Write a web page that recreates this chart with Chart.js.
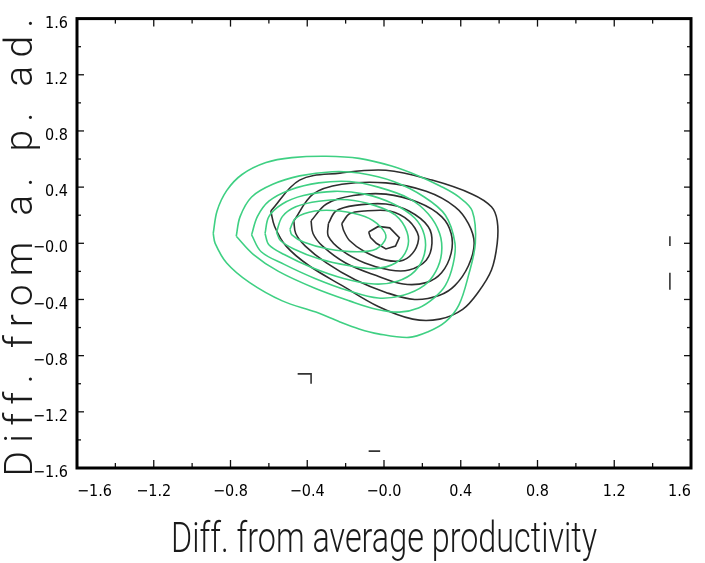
<!DOCTYPE html>
<html><head><meta charset="utf-8">
<script src="https://cdn.jsdelivr.net/npm/chart.js@4"></script>
<style>html,body{margin:0;padding:0;background:#fff;}#wrap{width:705px;height:563px;}</style>
</head><body><div id="wrap"><canvas id="c" width="705" height="563"></canvas></div>
<script>
const xAxisTitle = 'Diff. from average productivity';
const yAxisTitle = 'Diff. from a. p. ad.';
const axisMin = -1.6, axisMax = 1.6, tickStep = 0.2;

// green contours (outer to inner), [x, y]
const green1 = [[-0.89,0.07],[-0.87,0.23],[-0.82,0.375],[-0.74,0.49],[-0.615,0.575],[-0.48,0.61],[-0.30,0.62],[-0.13,0.605],[0.04,0.55],[0.18,0.48],[0.29,0.41],[0.39,0.33],[0.46,0.23],[0.476,0.0],[0.44,-0.23],[0.39,-0.44],[0.32,-0.56],[0.23,-0.63],[0.13,-0.67],[-0.03,-0.645],[-0.13,-0.61],[-0.23,-0.56],[-0.355,-0.49],[-0.53,-0.41],[-0.70,-0.28],[-0.82,-0.14],[-0.88,0.0]];
const green2 = [[-0.77,0.05],[-0.75,0.19],[-0.69,0.33],[-0.58,0.42],[-0.44,0.48],[-0.27,0.51],[-0.13,0.50],[0.05,0.44],[0.21,0.33],[0.32,0.20],[0.37,0.0],[0.36,-0.15],[0.32,-0.30],[0.26,-0.39],[0.18,-0.46],[0.08,-0.49],[-0.04,-0.47],[-0.18,-0.41],[-0.36,-0.32],[-0.55,-0.20],[-0.68,-0.08]];
const green3 = [[-0.69,0.06],[-0.66,0.19],[-0.60,0.30],[-0.49,0.38],[-0.34,0.43],[-0.18,0.44],[-0.03,0.40],[0.13,0.32],[0.23,0.21],[0.29,0.07],[0.30,-0.07],[0.27,-0.20],[0.21,-0.30],[0.10,-0.37],[-0.03,-0.39],[-0.18,-0.34],[-0.36,-0.25],[-0.52,-0.15],[-0.64,-0.06]];
const green4 = [[-0.62,0.07],[-0.60,0.19],[-0.53,0.28],[-0.42,0.34],[-0.26,0.37],[-0.10,0.35],[0.05,0.28],[0.16,0.18],[0.21,0.06],[0.21,-0.08],[0.16,-0.20],[0.07,-0.27],[-0.05,-0.29],[-0.21,-0.25],[-0.38,-0.17],[-0.52,-0.08],[-0.60,-0.01]];
const green5 = [[-0.56,0.08],[-0.53,0.19],[-0.46,0.26],[-0.34,0.30],[-0.19,0.31],[-0.05,0.27],[0.06,0.20],[0.12,0.08],[0.12,-0.04],[0.06,-0.14],[-0.05,-0.18],[-0.18,-0.16],[-0.34,-0.11],[-0.47,-0.04],[-0.54,0.02]];
const green6 = [[-0.49,0.10],[-0.46,0.18],[-0.36,0.23],[-0.23,0.23],[-0.10,0.19],[-0.02,0.12],[0.01,0.04],[-0.04,-0.04],[-0.14,-0.06],[-0.29,-0.04],[-0.42,0.01],[-0.48,0.06]];

// black contours (outer to inner), [x, y]
const black1 = [[-0.59,0.23],[-0.44,0.45],[-0.23,0.50],[0.01,0.52],[0.25,0.45],[0.46,0.35],[0.56,0.26],[0.59,0.16],[0.59,0.0],[0.56,-0.19],[0.49,-0.35],[0.41,-0.47],[0.29,-0.54],[0.15,-0.54],[-0.03,-0.45],[-0.22,-0.30],[-0.39,-0.16],[-0.51,-0.02],[-0.57,0.12]];
const black2 = [[-0.47,0.16],[-0.37,0.35],[-0.22,0.42],[0.01,0.43],[0.22,0.37],[0.37,0.26],[0.44,0.14],[0.47,0.0],[0.44,-0.16],[0.37,-0.30],[0.29,-0.37],[0.16,-0.40],[0.01,-0.35],[-0.15,-0.26],[-0.30,-0.14],[-0.41,-0.02],[-0.46,0.07]];
const black3 = [[-0.38,0.16],[-0.30,0.28],[-0.16,0.34],[0.01,0.35],[0.18,0.29],[0.30,0.19],[0.35,0.07],[0.35,-0.07],[0.30,-0.21],[0.22,-0.28],[0.10,-0.29],[-0.04,-0.23],[-0.20,-0.14],[-0.32,-0.02],[-0.37,0.07]];
const black4 = [[-0.29,0.14],[-0.25,0.23],[-0.15,0.27],[0.01,0.28],[0.13,0.23],[0.23,0.12],[0.25,0.0],[0.22,-0.12],[0.13,-0.19],[0.03,-0.19],[-0.10,-0.14],[-0.22,-0.05],[-0.29,0.05]];
const black5 = [[-0.22,0.14],[-0.18,0.21],[-0.10,0.23],[0.03,0.23],[0.13,0.16],[0.18,0.05],[0.16,-0.05],[0.10,-0.12],[0.01,-0.12],[-0.10,-0.06],[-0.18,0.02],[-0.21,0.09]];
const black6 = [[-0.08,0.08],[-0.03,0.12],[0.03,0.11],[0.08,0.04],[0.06,-0.02],[0.01,-0.04],[-0.04,0.0],[-0.07,0.04]];

// small stray marks
const markA = [[-0.45,-0.93],[-0.38,-0.93],[-0.38,-1.00]];
const markB = [[-0.08,-1.48],[-0.02,-1.48]];
const markC = [[1.49,0.05],[1.49,-0.02]];
const markD = [[1.49,-0.21],[1.49,-0.33]];

const GREEN = '#3fd083';
const BLACK = '#2e2e2e';

function ring(pts, color, tension) {
  const d = pts.concat([pts[0]]).map(p => ({x: p[0], y: p[1]}));
  return {data: d, showLine: true, borderColor: color, borderWidth: 1.6, pointRadius: 0, tension: tension, fill: false};
}
function mark(pts) {
  return {data: pts.map(p => ({x: p[0], y: p[1]})), showLine: true, borderColor: '#333', borderWidth: 1.6, pointRadius: 0, tension: 0, fill: false};
}

const datasets = [
  ring(green1, GREEN, 0.35), ring(green2, GREEN, 0.35), ring(green3, GREEN, 0.35),
  ring(green4, GREEN, 0.35), ring(green5, GREEN, 0.35), ring(green6, GREEN, 0.35),
  ring(black1, BLACK, 0.35), ring(black2, BLACK, 0.35), ring(black3, BLACK, 0.35),
  ring(black4, BLACK, 0.35), ring(black5, BLACK, 0.3), ring(black6, BLACK, 0),
  mark(markA), mark(markB), mark(markC), mark(markD)
];

function tickLabel(v) {
  const k = Math.round(v * 10);
  if (k % 4 !== 0) return '';
  const s = (Math.abs(k) / 10).toFixed(1);
  return (k <= 0 ? '\u2212' : '') + s;
}

const tickFont = {family: "'Liberation Sans Narrow', 'DejaVu Sans Condensed', 'Liberation Sans', sans-serif", size: 16};
const xTitleFont = {family: "Roboto, 'DejaVu Sans', sans-serif", size: 42, weight: 300, lineHeight: 1.0};
const yTitleFont = {family: "Roboto, 'DejaVu Sans', sans-serif", size: 39, weight: 300, lineHeight: 1.0};

const titleStyler = {
  id: 'titleStyler',
  beforeDraw(chart) {
    const xs = chart.scales.x, ys = chart.scales.y;
    if (!xs._wrappedTitle) {
      const orig = xs.drawTitle.bind(xs);
      xs.drawTitle = function () {
        const ctx = chart.ctx;
        ctx.save();
        ctx.font = "300 42px Roboto, 'DejaVu Sans', sans-serif";
        const w = ctx.measureText(xAxisTitle).width;
        const s = 426 / w;
        const cx = (xs.left + xs.right) / 2;
        ctx.translate(cx, 0); ctx.scale(s, 1); ctx.translate(-cx, 0);
        orig();
        ctx.restore();
      };
      xs._wrappedTitle = true;
    }
    if (!ys._wrappedTitle) {
      const orig = ys.drawTitle.bind(ys);
      ys.drawTitle = function () {
        const ctx = chart.ctx;
        ctx.save();
        ctx.font = "300 39px Roboto, 'DejaVu Sans', sans-serif";
        ctx.letterSpacing = '0px';
        const w = ctx.measureText(yAxisTitle).width;
        const sp = (458 - w) / (yAxisTitle.length - 1);
        ctx.letterSpacing = sp + 'px';
        orig();
        ctx.restore();
      };
      ys._wrappedTitle = true;
    }
  }
};

const frameTicks = {
  id: 'frameTicks',
  afterDraw(chart) {
    const {ctx, chartArea: a, scales: {x, y}} = chart;
    ctx.save();
    ctx.strokeStyle = '#111';
    ctx.lineWidth = 1.3;
    const seg = (x1, y1, x2, y2) => { ctx.beginPath(); ctx.moveTo(x1, y1); ctx.lineTo(x2, y2); ctx.stroke(); };
    x.ticks.forEach(t => {
      const k = Math.round(t.value * 10);
      if (Math.abs(k) >= 16) return;
      const p = x.getPixelForValue(t.value);
      const L = k % 4 === 0 ? 8 : 5;
      seg(p, a.bottom, p, a.bottom - L);
      seg(p, a.top, p, a.top + L);
    });
    y.ticks.forEach(t => {
      const k = Math.round(t.value * 10);
      if (Math.abs(k) >= 16) return;
      const p = y.getPixelForValue(t.value);
      const L = k % 4 === 0 ? 7 : 4;
      seg(a.left, p, a.left + L, p);
      seg(a.right, p, a.right - L, p);
    });
    ctx.lineWidth = 3;
    ctx.strokeStyle = '#000';
    ctx.strokeRect(a.left, a.top, a.right - a.left, a.bottom - a.top);
    ctx.restore();
  }
};

new Chart(document.getElementById('c'), {
  type: 'scatter',
  data: {datasets},
  options: {
    responsive: false,
    animation: false,
    events: [],
    layout: {padding: {top: 12, right: 12, left: 0, bottom: 0}},
    plugins: {legend: {display: false}, tooltip: {enabled: false}},
    scales: {
      x: {
        type: 'linear', min: axisMin, max: axisMax,
        grid: {display: false, drawTicks: false},
        border: {display: false},
        ticks: {stepSize: tickStep, autoSkip: false, maxRotation: 0, callback: tickLabel, font: tickFont, color: '#000', padding: 14, align: 'inner'},
        title: {display: true, text: xAxisTitle, font: xTitleFont, color: '#1a1a1a', padding: {top: 0, bottom: 1}},
        afterFit(s) { s.height = 95; }
      },
      y: {
        type: 'linear', min: axisMin, max: axisMax,
        grid: {display: false, drawTicks: false},
        border: {display: false},
        ticks: {stepSize: tickStep, autoSkip: false, callback: tickLabel, font: tickFont, color: '#000', padding: 9, labelOffset: 5},
        title: {display: true, text: yAxisTitle, font: yTitleFont, color: '#1a1a1a', padding: {top: 3, bottom: 0}},
        afterFit(s) { s.width = 77; }
      }
    }
  },
  plugins: [titleStyler, frameTicks]
});
</script>
</body></html>
